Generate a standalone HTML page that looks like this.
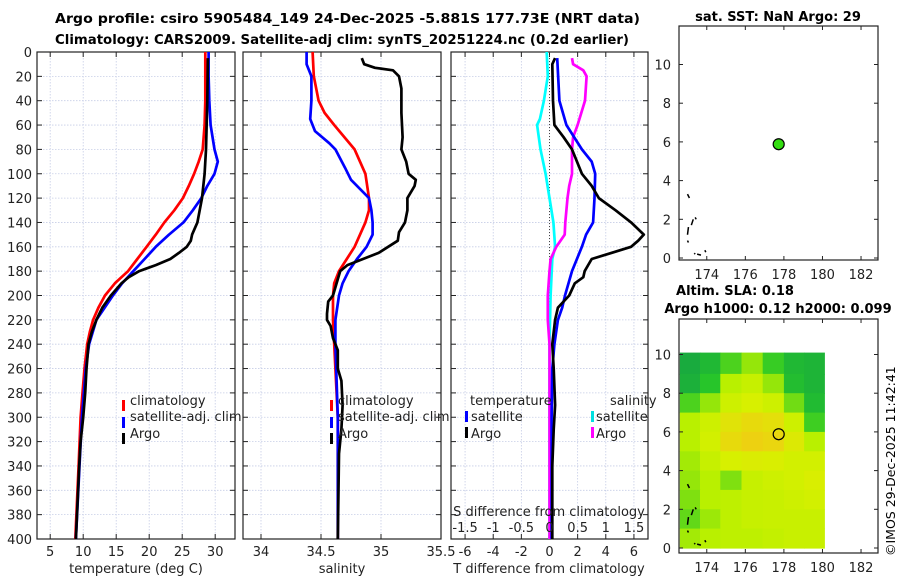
<!DOCTYPE html>
<html><head><meta charset="utf-8">
<style>
html,body{margin:0;padding:0;background:#fff;}
svg{display:block;font-family:"DejaVu Sans","Liberation Sans",sans-serif;}
</style></head>
<body>
<svg id="fig" width="900" height="580" viewBox="0 0 900 580" xmlns="http://www.w3.org/2000/svg">
<text x="55" y="23" font-size="13" font-weight="bold" textLength="585" lengthAdjust="spacingAndGlyphs">Argo profile: csiro 5905484_149 24-Dec-2025 -5.881S 177.73E (NRT data)</text>
<text x="55" y="44" font-size="13" font-weight="bold" textLength="574" lengthAdjust="spacingAndGlyphs">Climatology: CARS2009. Satellite-adj clim: synTS_20251224.nc (0.2d earlier)</text>
<text x="778" y="21" font-size="13" font-weight="bold" text-anchor="middle">sat. SST: NaN Argo: 29</text>
<text x="735" y="295" font-size="13" font-weight="bold" text-anchor="middle">Altim. SLA: 0.18</text>
<text x="778" y="313" font-size="13" font-weight="bold" text-anchor="middle">Argo h1000: 0.12 h2000: 0.099</text>
<text transform="translate(895,556) rotate(-90)" font-size="12.5">©IMOS 29-Dec-2025 11:42:41</text>
<g id="layer"></g>
</svg>
<script>
// ---- data ----
const depthTicks=[0,20,40,60,80,100,120,140,160,180,200,220,240,260,280,300,320,340,360,380,400];
const tempTicks=[5,10,15,20,25,30];
const salTicks=[34,34.5,35,35.5];
const tdiffTicks=[-6,-4,-2,0,2,4,6];
const sdiffTicks=[-1.5,-1,-0.5,0,0.5,1,1.5];
const sdiffLabels=["-1.5","-1","-0.5","0","0.5","1","1.5"];
const lonTicks=[174,176,178,180,182];
const latTicks=[0,2,4,6,8,10];

const climTdepth=[0,20,40,60,80,90,100,110,120,130,140,150,160,170,180,190,200,210,220,230,240,260,280,300,340,400];
const climT=[28.5,28.5,28.5,28.4,28.1,27.5,26.8,26.0,25.1,23.8,22.3,21.0,19.6,18.2,16.8,14.8,13.3,12.3,11.5,11.0,10.6,10.2,9.9,9.6,9.3,8.8];
const satTdepth=[0,20,40,60,80,90,100,110,120,130,140,150,160,170,180,190,200,220,240,260,300,400];
const satT=[29.0,29.0,29.1,29.3,29.9,30.4,29.9,28.8,27.9,26.6,25.2,23.0,21.0,19.3,17.6,15.9,14.5,12.0,10.9,10.4,9.8,8.9];
const argoTdepth=[5,40,80,100,120,140,150,155,160,165,170,175,178,180,185,190,200,210,220,230,240,260,280,300,320,340,400];
const argoT=[28.9,28.8,28.6,28.4,28.0,27.3,26.5,26.3,25.7,24.5,23.2,21.0,19.5,18.5,16.9,15.8,14.2,12.9,12.0,11.3,10.8,10.5,10.3,10.0,9.6,9.4,8.9];

const climSdepth=[0,20,40,50,60,80,100,120,130,140,160,180,190,200,220,240,260,300,400];
const climS=[34.43,34.44,34.48,34.53,34.61,34.78,34.87,34.9,34.9,34.87,34.78,34.65,34.61,34.6,34.6,34.61,34.62,34.64,34.64];
const satSdepth=[0,10,20,40,55,65,75,80,95,105,120,130,140,150,160,170,180,190,200,220,240,300,400];
const satS=[34.38,34.38,34.42,34.42,34.41,34.45,34.57,34.62,34.7,34.75,34.9,34.92,34.93,34.93,34.88,34.8,34.73,34.68,34.65,34.62,34.62,34.64,34.64];
const argoSdepth=[5,10,13,15,20,30,50,70,80,90,100,105,110,120,130,140,148,155,165,170,175,180,190,200,205,215,220,225,235,245,260,270,290,310,330,400];
const argoS=[34.84,34.86,34.95,35.1,35.15,35.17,35.17,35.18,35.17,35.21,35.23,35.29,35.28,35.22,35.22,35.2,35.15,35.14,34.98,34.85,34.72,34.66,34.63,34.6,34.56,34.55,34.55,34.58,34.6,34.64,34.64,34.67,34.68,34.67,34.65,34.64];

const satTdiffDepth=[5,40,60,80,90,100,120,140,150,160,180,200,210,220,240,260,300,400];
const satTdiff=[0.55,0.7,1.2,2.3,3.0,3.25,3.2,3.1,2.6,2.3,1.6,1.1,0.9,0.6,0.35,0.2,0.15,0.15];
const argoTdiffDepth=[5,10,40,60,70,80,100,110,120,130,140,150,155,160,165,170,180,185,190,200,210,220,240,260,290,310,340,400];
const argoTdiff=[0.4,0.2,0.25,0.35,1.0,1.6,2.3,3.0,3.5,4.7,5.8,6.7,6.3,5.8,4.4,3.0,2.5,2.4,1.8,1.4,0.6,0.4,0.2,0.3,0.4,0.3,0.2,0.2];
const satSdiffDepth=[0,20,40,55,60,80,100,120,140,160,170,200,240,300,400];
const satSdiff=[-0.05,-0.03,-0.1,-0.17,-0.22,-0.16,-0.07,0.0,0.07,0.1,0.05,0.02,0.0,0.0,0.0];
const argoSdiffDepth=[5,10,15,20,40,60,70,80,100,110,120,140,150,160,170,180,200,220,240,300,400];
const argoSdiff=[0.4,0.42,0.6,0.66,0.63,0.5,0.42,0.4,0.4,0.35,0.32,0.28,0.27,0.12,0.02,0.0,-0.03,-0.03,0.0,0.0,0.0];

const argoLon=[177.73];
const argoLat=[5.88];
const slaLonEdges=[172.6,173.65,174.7,175.8,176.9,178.0,179.05,180.1];
const slaLatEdges=[10.1,9,8,7,6,5,4,3,2,1,0];
const slaGrid=[
 [0.08,0.18,0.35,0.45,0.32,0.18,0.15],
 [0.12,0.28,0.50,0.55,0.45,0.22,0.15],
 [0.35,0.45,0.58,0.62,0.58,0.40,0.20],
 [0.50,0.58,0.68,0.72,0.70,0.58,0.33],
 [0.50,0.60,0.72,0.76,0.74,0.65,0.50],
 [0.47,0.55,0.62,0.64,0.63,0.60,0.60],
 [0.45,0.50,0.42,0.55,0.58,0.60,0.63],
 [0.42,0.50,0.52,0.55,0.56,0.58,0.60],
 [0.38,0.46,0.52,0.55,0.56,0.56,0.56],
 [0.47,0.50,0.52,0.52,0.54,0.56,0.56]];

// ---- helpers ----
const NS="http://www.w3.org/2000/svg";
const layer=document.getElementById('layer');
function mk(tag,attrs,parent){const e=document.createElementNS(NS,tag);for(const k in attrs)e.setAttribute(k,attrs[k]);(parent||layer).appendChild(e);return e;}
function lin(d0,d1,r0,r1){return v=>r0+(v-d0)*(r1-r0)/(d1-d0);}
const Y0=52,Y1=539;
const yD=lin(0,400,Y0,Y1);

function panel(name,x0,x1,xmin,xmax,ticks,labels,showY){
  const g=mk('g',{});
  
  
  const sx=lin(xmin,xmax,x0,x1);
  depthTicks.forEach(d=>{
    const l=mk('line',{x1:x0,x2:x1,y1:yD(d),y2:yD(d),stroke:'#c6cde6','stroke-width':0.8,'stroke-dasharray':'1.5,1.5'},g);
    
    
    mk('line',{x1:x0,x2:x0+5,y1:yD(d),y2:yD(d),stroke:'#222'},g);
    mk('line',{x1:x1-5,x2:x1,y1:yD(d),y2:yD(d),stroke:'#222'},g);
    if(showY){const t=mk('text',{x:x0-5,y:yD(d)+5,'font-size':13,'text-anchor':'end',fill:'#222'},g);t.textContent=d;
      
      }
  });
  ticks.forEach((v,i)=>{
    const l=mk('line',{x1:sx(v),x2:sx(v),y1:Y0,y2:Y1,stroke:'#c6cde6','stroke-width':0.8,'stroke-dasharray':'1.5,1.5'},g);
    
    
    mk('line',{x1:sx(v),x2:sx(v),y1:Y1-5,y2:Y1,stroke:'#222'},g);
    mk('line',{x1:sx(v),x2:sx(v),y1:Y0,y2:Y0+5,stroke:'#222'},g);
    const t=mk('text',{x:sx(v),y:556,'font-size':13,'text-anchor':'middle',fill:'#222'},g);t.textContent=labels[i];
    
    
  });
  const b=mk('rect',{x:x0,y:Y0,width:x1-x0,height:Y1-Y0,fill:'none',stroke:'#222','stroke-width':1.2},g);
  
  
  return {g,sx};
}
function line(g,sx,xs,ds,color,name){
  const p=mk('polyline',{points:xs.map((v,i)=>sx(v).toFixed(1)+','+yD(ds[i]).toFixed(1)).join(' '),fill:'none',stroke:color,'stroke-width':2.7,'stroke-linejoin':'round'},g);
  
  
}
function txt(g,x,y,s,name,size,anchor){const t=mk('text',{x:x,y:y,'font-size':size||13,'text-anchor':anchor||'start',fill:'#222'},g);t.textContent=s;
  
  return t;}
function legBar(g,x,y,color,name){const r=mk('rect',{x:x,y:y-11,width:3,height:11,fill:color},g);
  
  }

// Panel 1: temperature
const P1=panel('temperature-panel',37,235,3,33,tempTicks,tempTicks.map(String),true);
line(P1.g,P1.sx,climT,climTdepth,'#ff0000','climatology-temp-line');
line(P1.g,P1.sx,satT,satTdepth,'#0000ff','satellite-temp-line');
line(P1.g,P1.sx,argoT,argoTdepth,'#000000','argo-temp-line');
txt(P1.g,136,573,'temperature (deg C)','temperature-axis-title',13,'middle');
legBar(P1.g,122,411,'#ff0000','legend-climatology-swatch');txt(P1.g,130,405,'climatology','legend-climatology');
legBar(P1.g,122,428,'#0000ff','legend-satellite-swatch');txt(P1.g,130,421,'satellite-adj. clim','legend-satellite');
legBar(P1.g,122,444,'#000','legend-argo-swatch');txt(P1.g,130,438,'Argo','legend-argo');

// Panel 2: salinity
const P2=panel('salinity-panel',243,441,33.85,35.5,salTicks,["34","34.5","35","35.5"],false);
line(P2.g,P2.sx,climS,climSdepth,'#ff0000','climatology-salinity-line');
line(P2.g,P2.sx,satS,satSdepth,'#0000ff','satellite-salinity-line');
line(P2.g,P2.sx,argoS,argoSdepth,'#000000','argo-salinity-line');
txt(P2.g,342,573,'salinity','salinity-axis-title',13,'middle');
legBar(P2.g,330,411,'#ff0000','legend-climatology-swatch');txt(P2.g,338,405,'climatology','legend-climatology');
legBar(P2.g,330,428,'#0000ff','legend-satellite-swatch');txt(P2.g,338,421,'satellite-adj. clim','legend-satellite');
legBar(P2.g,330,444,'#000','legend-argo-swatch');txt(P2.g,338,438,'Argo','legend-argo');

// Panel 3: differences
const P3=panel('difference-panel',451,648,-7,7,tdiffTicks,tdiffTicks.map(String),false);
const sS=lin(-1.75,1.75,451,648);
const zl=mk('line',{x1:P3.sx(0),x2:P3.sx(0),y1:Y0,y2:Y1,stroke:'#444','stroke-width':1,'stroke-dasharray':'1,2'},P3.g);


line(P3.g,sS,satSdiff,satSdiffDepth,'#00ffff','satellite-salinity-diff-line');
line(P3.g,sS,argoSdiff,argoSdiffDepth,'#ff00ff','argo-salinity-diff-line');
line(P3.g,P3.sx,satTdiff,satTdiffDepth,'#0000ff','satellite-temp-diff-line');
line(P3.g,P3.sx,argoTdiff,argoTdiffDepth,'#000000','argo-temp-diff-line');
sdiffTicks.forEach((v,i)=>{txt(P3.g,sS(v),532,sdiffLabels[i],'s-diff-tick-label',13,'middle');});
txt(P3.g,549,516,'S difference from climatology','s-diff-axis-title',13,'middle');
txt(P3.g,549,573,'T difference from climatology','t-diff-axis-title',13,'middle');
txt(P3.g,470,405,'temperature','legend-temperature-header');
txt(P3.g,610,405,'salinity','legend-salinity-header');
legBar(P3.g,465,422,'#0000ff','legend-t-satellite-swatch');txt(P3.g,471,421,'satellite','legend-t-satellite');
legBar(P3.g,465,438,'#000','legend-t-argo-swatch');txt(P3.g,471,438,'Argo','legend-t-argo');
legBar(P3.g,591,422,'#00e0e0','legend-s-satellite-swatch');txt(P3.g,596,421,'satellite','legend-s-satellite');
legBar(P3.g,591,438,'#ff00ff','legend-s-argo-swatch');txt(P3.g,596,438,'Argo','legend-s-argo');

// Maps
function cmap(v){const st=[[0,[20,160,70]],[0.3,[40,200,40]],[0.5,[185,240,0]],[0.62,[215,240,0]],[0.78,[240,205,20]]];
  if(v<=st[0][0])return st[0][1];
  for(let i=1;i<st.length;i++){if(v<=st[i][0]){const a=st[i-1],b=st[i],t=(v-a[0])/(b[0]-a[0]);return a[1].map((c,k)=>Math.round(c+(b[1][k]-c)*t));}}
  return st[st.length-1][1];}
function mapPanel(name,top,bottom,lat0y,heat){
  const g=mk('g',{});
  
  
  const x0=679,x1=878;
  const sx=lin(172.56,182.88,x0,x1);
  const sy=lin(0,10,lat0y,lat0y-19.35*10);
  if(heat){
    slaGrid.forEach((row,r)=>row.forEach((v,c)=>{
      const col=cmap(v);
      const cell=mk('rect',{x:sx(slaLonEdges[c]).toFixed(1),y:sy(slaLatEdges[r]).toFixed(1),width:(sx(slaLonEdges[c+1])-sx(slaLonEdges[c])+0.6).toFixed(1),height:(sy(slaLatEdges[r+1])-sy(slaLatEdges[r])+0.6).toFixed(1),fill:'rgb('+col.join(',')+')'},g);
      
      
    }));
  }
  // coastline fragments
  [[173.0,3.3,173.1,3.1],[173.3,2.0,173.2,1.7],[173.05,1.6,173.0,1.2],[173.0,0.9,173.05,0.8],[173.5,0.2,173.7,0.15],[173.9,0.4,173.95,0.3],[173.35,0.25,173.4,0.2],[173.4,2.1,173.45,2.0]].forEach(s=>{
    const c=mk('line',{x1:sx(s[0]),y1:sy(s[1]),x2:sx(s[2]),y2:sy(s[3]),stroke:'#000','stroke-width':1.5},g);
    
    
  });
  latTicks.forEach(v=>{
    mk('line',{x1:x0,x2:x0+4,y1:sy(v),y2:sy(v),stroke:'#222'},g);
    mk('line',{x1:x1-4,x2:x1,y1:sy(v),y2:sy(v),stroke:'#222'},g);
    txt(g,x0-8,sy(v)+5,String(v),'lat-tick-label',13,'end');
  });
  lonTicks.forEach(v=>{
    mk('line',{x1:sx(v),x2:sx(v),y1:bottom-4,y2:bottom,stroke:'#222'},g);
    mk('line',{x1:sx(v),x2:sx(v),y1:top,y2:top+4,stroke:'#222'},g);
    txt(g,sx(v),bottom+19,String(v),'lon-tick-label',13,'middle');
  });
  argoLon.forEach((lon,i)=>{
    const d=mk('circle',{cx:sx(lon),cy:sy(argoLat[i]),r:5.5,fill:heat?'none':'#33dd11',stroke:'#000','stroke-width':1.2},g);
    
    
  });
  const f=mk('rect',{x:x0,y:top,width:x1-x0,height:bottom-top,fill:'none',stroke:'#222','stroke-width':1.2},g);
  
  
}
mapPanel('sst-map',26,260,258,false);
mapPanel('sla-map',319,553,548,true);
</script>
</body></html>
